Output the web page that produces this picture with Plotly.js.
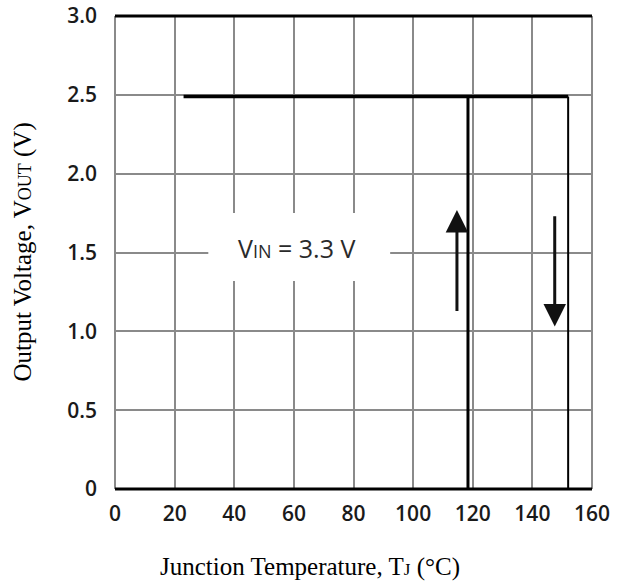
<!DOCTYPE html>
<html>
<head>
<meta charset="utf-8">
<script src="https://cdn.plot.ly/plotly-3.0.1.min.js"></script>
<style>html,body{margin:0;padding:0;background:#fff;}#chart{width:620px;height:587px;}</style>
</head>
<body>
<div id="chart"></div>
<script>
// Data (junction temperature in °C, output voltage in V)
const xTicks = [0, 20, 40, 60, 80, 100, 120, 140, 160];
const xTickText = ["0", "20", "40", "60", "80", "100", "120", "140", "160"];
const yTicks = [0, 0.5, 1.0, 1.5, 2.0, 2.5, 3.0];
const yTickText = ["0", "0.5", "1.0", "1.5", "2.0", "2.5", "3.0"];

const regulatedT = [23, 152];
const regulatedV = [2.49, 2.49];
const recoveryT = [118.4, 118.4];
const recoveryV = [0, 2.49];
const shutdownT = [152, 152];
const shutdownV = [2.49, 0];

// Arrows: [x, tailY, headY]
const upArrow = [114.7, 1.12, 1.77];
const downArrow = [147.5, 1.74, 1.03];

const labelText = "V<span style='font-size:18px'>IN</span> = 3.3 V";
const labelPos = [61, 1.53];
const labelBoxT = [31.3, 92.3];
const labelBoxV = [1.32, 1.75];

const xTitle = "Junction Temperature, T<span style='font-size:17px'>J</span> (°C)";
const yTitle = "Output Voltage, V<span style='font-size:18px'>OUT</span> (V)";

const traces = [
  {x: regulatedT, y: regulatedV, mode: 'lines', line: {color: '#000', width: 3.5}, hoverinfo: 'skip'},
  {x: recoveryT, y: recoveryV, mode: 'lines', line: {color: '#000', width: 3}, hoverinfo: 'skip'},
  {x: shutdownT, y: shutdownV, mode: 'lines', line: {color: '#000', width: 2}, hoverinfo: 'skip'}
];

const gridColor = '#8a8a8a';
const tickFont = {family: 'Open Sans', size: 21, color: '#1a1a1a', weight: 600};
const titleFont = {family: 'Liberation Serif', size: 25, color: '#000'};
const plotTop = 16, plotBottom = 489, plotLeft = 115, plotRight = 592;
const layout = {
  width: 620, height: 587,
  margin: {l: plotLeft, r: 620 - plotRight, t: plotTop, b: 587 - plotBottom},
  paper_bgcolor: '#fff', plot_bgcolor: '#fff',
  showlegend: false,
  xaxis: {
    range: [0, 160], tickvals: xTicks, ticktext: xTickText,
    showgrid: true, gridcolor: gridColor, gridwidth: 2, zeroline: false,
    showline: false, ticks: '', ticklabelstandoff: 10, ticklabeloverflow: 'allow',
    tickfont: tickFont
  },
  yaxis: {
    range: [0, 3], tickvals: yTicks, ticktext: yTickText,
    showgrid: true, gridcolor: gridColor, gridwidth: 2, zeroline: false,
    showline: false, ticks: '', ticklabelstandoff: 17, ticklabeloverflow: 'allow',
    tickfont: tickFont
  },
  shapes: [
    {type: 'rect', xref: 'x', yref: 'y', x0: labelBoxT[0], x1: labelBoxT[1], y0: labelBoxV[0], y1: labelBoxV[1],
     fillcolor: '#fff', line: {width: 0}, layer: 'above'},
    {type: 'line', xref: 'paper', yref: 'paper', x0: 0, x1: 0, y0: 0, y1: 1, line: {color: gridColor, width: 2}},
    {type: 'line', xref: 'paper', yref: 'paper', x0: 1, x1: 1, y0: 0, y1: 1, line: {color: gridColor, width: 2}},
    {type: 'line', xref: 'paper', yref: 'paper', x0: 0, x1: 1, y0: 1, y1: 1, line: {color: '#000', width: 3}, layer: 'above'},
    {type: 'line', xref: 'paper', yref: 'paper', x0: 0, x1: 1, y0: 0, y1: 0, line: {color: '#000', width: 3}, layer: 'above'}
  ],
  annotations: [
    {x: labelPos[0], y: labelPos[1], xref: 'x', yref: 'y', text: labelText, showarrow: false,
     font: {family: 'Open Sans', size: 25, color: '#2a2a2a'}},
    {x: upArrow[0], y: upArrow[2], ax: upArrow[0], ay: upArrow[1], xref: 'x', yref: 'y', axref: 'x', ayref: 'y',
     text: '', showarrow: true, arrowhead: 2, arrowsize: 1.5, arrowwidth: 3, arrowcolor: '#111'},
    {x: downArrow[0], y: downArrow[2], ax: downArrow[0], ay: downArrow[1], xref: 'x', yref: 'y', axref: 'x', ayref: 'y',
     text: '', showarrow: true, arrowhead: 2, arrowsize: 1.5, arrowwidth: 3, arrowcolor: '#111'},
    {x: (158 - plotLeft) / (plotRight - plotLeft), y: (plotBottom - 567) / (plotBottom - plotTop),
     xref: 'paper', yref: 'paper', xanchor: 'left', yanchor: 'middle',
     text: xTitle, showarrow: false, font: titleFont},
    {x: (22 - plotLeft) / (plotRight - plotLeft), y: 0.5, xref: 'paper', yref: 'paper', xanchor: 'center', yanchor: 'middle',
     textangle: -90, text: yTitle, showarrow: false, font: titleFont}
  ]
};

Plotly.newPlot('chart', traces, layout, {displayModeBar: false, staticPlot: true});
</script>
</body>
</html>
